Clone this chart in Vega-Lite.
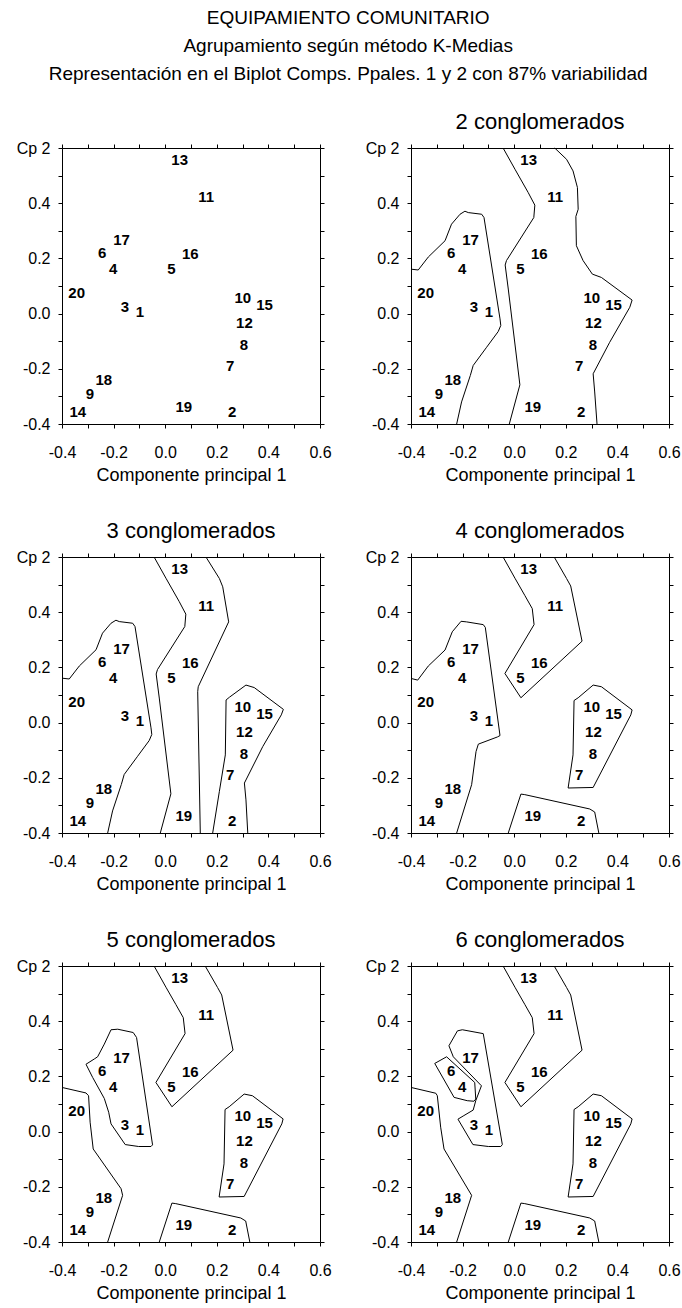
{
"$schema": "https://vega.github.io/schema/vega-lite/v6.json",
"padding": {"left": 16, "top": 9, "right": 4, "bottom": 4},
"title": {"text": ["EQUIPAMIENTO COMUNITARIO", "Agrupamiento según método K-Medias", "Representación en el Biplot Comps.  Ppales. 1 y 2 con 87% variabilidad"], "fontSize": 19, "lineHeight": 28, "anchor": "middle", "offset": 27},
"datasets": {
"pts": [
{"id":"13","x":0.056,"y":0.558},{"id":"11","x":0.159,"y":0.422},{"id":"17","x":-0.169,"y":0.267},{"id":"6","x":-0.244,"y":0.221},
{"id":"4","x":-0.202,"y":0.160},{"id":"16","x":0.097,"y":0.215},{"id":"5","x":0.024,"y":0.160},{"id":"20","x":-0.343,"y":0.076},
{"id":"3","x":-0.156,"y":0.024},{"id":"1","x":-0.098,"y":0.004},{"id":"10","x":0.301,"y":0.055},{"id":"15","x":0.385,"y":0.030},
{"id":"12","x":0.307,"y":-0.034},{"id":"8","x":0.305,"y":-0.115},{"id":"7","x":0.252,"y":-0.190},{"id":"18","x":-0.238,"y":-0.240},
{"id":"9","x":-0.292,"y":-0.291},{"id":"14","x":-0.339,"y":-0.355},{"id":"19","x":0.072,"y":-0.337},{"id":"2","x":0.260,"y":-0.355}
],
"lines": [
{"panel":2,"seg":"A","ord":1,"x":-0.400,"y":0.161},{"panel":2,"seg":"A","ord":2,"x":-0.372,"y":0.158},{"panel":2,"seg":"A","ord":3,"x":-0.333,"y":0.205},{"panel":2,"seg":"A","ord":4,"x":-0.268,"y":0.264},{"panel":2,"seg":"A","ord":5,"x":-0.243,"y":0.324},{"panel":2,"seg":"A","ord":6,"x":-0.210,"y":0.360},{"panel":2,"seg":"A","ord":7,"x":-0.191,"y":0.371},{"panel":2,"seg":"A","ord":8,"x":-0.178,"y":0.366},{"panel":2,"seg":"A","ord":9,"x":-0.126,"y":0.360},{"panel":2,"seg":"A","ord":10,"x":-0.117,"y":0.348},{"panel":2,"seg":"A","ord":11,"x":-0.055,"y":-0.019},{"panel":2,"seg":"A","ord":12,"x":-0.052,"y":-0.043},{"panel":2,"seg":"A","ord":13,"x":-0.062,"y":-0.065},{"panel":2,"seg":"A","ord":14,"x":-0.107,"y":-0.122},{"panel":2,"seg":"A","ord":15,"x":-0.159,"y":-0.188},{"panel":2,"seg":"A","ord":16,"x":-0.170,"y":-0.224},{"panel":2,"seg":"A","ord":17,"x":-0.204,"y":-0.320},{"panel":2,"seg":"A","ord":18,"x":-0.223,"y":-0.400},
{"panel":2,"seg":"B","ord":1,"x":-0.043,"y":0.600},{"panel":2,"seg":"B","ord":2,"x":0.003,"y":0.523},{"panel":2,"seg":"B","ord":3,"x":0.054,"y":0.439},{"panel":2,"seg":"B","ord":4,"x":0.080,"y":0.393},{"panel":2,"seg":"B","ord":5,"x":0.076,"y":0.348},{"panel":2,"seg":"B","ord":6,"x":-0.030,"y":0.192},{"panel":2,"seg":"B","ord":7,"x":-0.035,"y":0.176},{"panel":2,"seg":"B","ord":8,"x":-0.023,"y":0.089},{"panel":2,"seg":"B","ord":9,"x":0.022,"y":-0.258},{"panel":2,"seg":"B","ord":10,"x":-0.019,"y":-0.400},
{"panel":2,"seg":"C","ord":1,"x":0.157,"y":0.600},{"panel":2,"seg":"C","ord":2,"x":0.203,"y":0.559},{"panel":2,"seg":"C","ord":3,"x":0.228,"y":0.517},{"panel":2,"seg":"C","ord":4,"x":0.245,"y":0.457},{"panel":2,"seg":"C","ord":5,"x":0.248,"y":0.378},{"panel":2,"seg":"C","ord":6,"x":0.239,"y":0.352},{"panel":2,"seg":"C","ord":7,"x":0.241,"y":0.246},{"panel":2,"seg":"C","ord":8,"x":0.267,"y":0.192},{"panel":2,"seg":"C","ord":9,"x":0.303,"y":0.143},{"panel":2,"seg":"C","ord":10,"x":0.338,"y":0.131},{"panel":2,"seg":"C","ord":11,"x":0.457,"y":0.049},{"panel":2,"seg":"C","ord":12,"x":0.448,"y":0.023},{"panel":2,"seg":"C","ord":13,"x":0.370,"y":-0.104},{"panel":2,"seg":"C","ord":14,"x":0.306,"y":-0.218},{"panel":2,"seg":"C","ord":15,"x":0.312,"y":-0.284},{"panel":2,"seg":"C","ord":16,"x":0.321,"y":-0.400},
{"panel":3,"seg":"A","ord":1,"x":-0.400,"y":0.161},{"panel":3,"seg":"A","ord":2,"x":-0.372,"y":0.158},{"panel":3,"seg":"A","ord":3,"x":-0.333,"y":0.205},{"panel":3,"seg":"A","ord":4,"x":-0.268,"y":0.264},{"panel":3,"seg":"A","ord":5,"x":-0.243,"y":0.324},{"panel":3,"seg":"A","ord":6,"x":-0.210,"y":0.360},{"panel":3,"seg":"A","ord":7,"x":-0.191,"y":0.371},{"panel":3,"seg":"A","ord":8,"x":-0.178,"y":0.366},{"panel":3,"seg":"A","ord":9,"x":-0.126,"y":0.360},{"panel":3,"seg":"A","ord":10,"x":-0.117,"y":0.348},{"panel":3,"seg":"A","ord":11,"x":-0.055,"y":-0.019},{"panel":3,"seg":"A","ord":12,"x":-0.052,"y":-0.043},{"panel":3,"seg":"A","ord":13,"x":-0.062,"y":-0.065},{"panel":3,"seg":"A","ord":14,"x":-0.107,"y":-0.122},{"panel":3,"seg":"A","ord":15,"x":-0.159,"y":-0.188},{"panel":3,"seg":"A","ord":16,"x":-0.170,"y":-0.224},{"panel":3,"seg":"A","ord":17,"x":-0.204,"y":-0.320},{"panel":3,"seg":"A","ord":18,"x":-0.223,"y":-0.400},
{"panel":3,"seg":"B","ord":1,"x":-0.043,"y":0.600},{"panel":3,"seg":"B","ord":2,"x":0.003,"y":0.523},{"panel":3,"seg":"B","ord":3,"x":0.054,"y":0.439},{"panel":3,"seg":"B","ord":4,"x":0.080,"y":0.393},{"panel":3,"seg":"B","ord":5,"x":0.076,"y":0.348},{"panel":3,"seg":"B","ord":6,"x":-0.030,"y":0.192},{"panel":3,"seg":"B","ord":7,"x":-0.035,"y":0.176},{"panel":3,"seg":"B","ord":8,"x":-0.023,"y":0.089},{"panel":3,"seg":"B","ord":9,"x":0.022,"y":-0.258},{"panel":3,"seg":"B","ord":10,"x":-0.019,"y":-0.400},
{"panel":3,"seg":"C","ord":1,"x":0.158,"y":0.600},{"panel":3,"seg":"C","ord":2,"x":0.210,"y":0.522},{"panel":3,"seg":"C","ord":3,"x":0.223,"y":0.492},{"panel":3,"seg":"C","ord":4,"x":0.246,"y":0.365},{"panel":3,"seg":"C","ord":5,"x":0.128,"y":0.130},{"panel":3,"seg":"C","ord":6,"x":0.126,"y":0.112},{"panel":3,"seg":"C","ord":7,"x":0.136,"y":-0.400},
{"panel":3,"seg":"D","ord":1,"x":0.184,"y":-0.400},{"panel":3,"seg":"D","ord":2,"x":0.210,"y":-0.249},{"panel":3,"seg":"D","ord":3,"x":0.233,"y":-0.117},{"panel":3,"seg":"D","ord":4,"x":0.236,"y":0.082},{"panel":3,"seg":"D","ord":5,"x":0.249,"y":0.092},{"panel":3,"seg":"D","ord":6,"x":0.313,"y":0.136},{"panel":3,"seg":"D","ord":7,"x":0.345,"y":0.127},{"panel":3,"seg":"D","ord":8,"x":0.458,"y":0.048},{"panel":3,"seg":"D","ord":9,"x":0.450,"y":0.028},{"panel":3,"seg":"D","ord":10,"x":0.378,"y":-0.087},{"panel":3,"seg":"D","ord":11,"x":0.307,"y":-0.219},{"panel":3,"seg":"D","ord":12,"x":0.313,"y":-0.280},{"panel":3,"seg":"D","ord":13,"x":0.320,"y":-0.400},
{"panel":4,"seg":"A","ord":1,"x":-0.400,"y":0.160},{"panel":4,"seg":"A","ord":2,"x":-0.374,"y":0.154},{"panel":4,"seg":"A","ord":3,"x":-0.333,"y":0.205},{"panel":4,"seg":"A","ord":4,"x":-0.268,"y":0.263},{"panel":4,"seg":"A","ord":5,"x":-0.240,"y":0.329},{"panel":4,"seg":"A","ord":6,"x":-0.206,"y":0.367},{"panel":4,"seg":"A","ord":7,"x":-0.185,"y":0.365},{"panel":4,"seg":"A","ord":8,"x":-0.120,"y":0.355},{"panel":4,"seg":"A","ord":9,"x":-0.112,"y":0.345},{"panel":4,"seg":"A","ord":10,"x":-0.055,"y":-0.047},{"panel":4,"seg":"A","ord":11,"x":-0.065,"y":-0.052},{"panel":4,"seg":"A","ord":12,"x":-0.139,"y":-0.078},{"panel":4,"seg":"A","ord":13,"x":-0.148,"y":-0.105},{"panel":4,"seg":"A","ord":14,"x":-0.165,"y":-0.225},{"panel":4,"seg":"A","ord":15,"x":-0.223,"y":-0.400},
{"panel":4,"seg":"T","ord":1,"x":-0.043,"y":0.600},{"panel":4,"seg":"T","ord":2,"x":0.003,"y":0.523},{"panel":4,"seg":"T","ord":3,"x":0.041,"y":0.461},{"panel":4,"seg":"T","ord":4,"x":0.070,"y":0.413},{"panel":4,"seg":"T","ord":5,"x":0.077,"y":0.355},{"panel":4,"seg":"T","ord":6,"x":-0.036,"y":0.178},{"panel":4,"seg":"T","ord":7,"x":0.026,"y":0.090},{"panel":4,"seg":"T","ord":8,"x":0.263,"y":0.295},{"panel":4,"seg":"T","ord":9,"x":0.219,"y":0.495},{"panel":4,"seg":"T","ord":10,"x":0.203,"y":0.522},{"panel":4,"seg":"T","ord":11,"x":0.155,"y":0.600},
{"panel":4,"seg":"R","ord":1,"x":0.232,"y":0.080},{"panel":4,"seg":"R","ord":2,"x":0.248,"y":0.090},{"panel":4,"seg":"R","ord":3,"x":0.306,"y":0.136},{"panel":4,"seg":"R","ord":4,"x":0.338,"y":0.130},{"panel":4,"seg":"R","ord":5,"x":0.457,"y":0.046},{"panel":4,"seg":"R","ord":6,"x":0.452,"y":0.028},{"panel":4,"seg":"R","ord":7,"x":0.306,"y":-0.235},{"panel":4,"seg":"R","ord":8,"x":0.209,"y":-0.237},{"panel":4,"seg":"R","ord":9,"x":0.228,"y":-0.117},{"panel":4,"seg":"R","ord":10,"x":0.232,"y":0.080},
{"panel":4,"seg":"Bt","ord":1,"x":-0.023,"y":-0.400},{"panel":4,"seg":"Bt","ord":2,"x":0.026,"y":-0.259},{"panel":4,"seg":"Bt","ord":3,"x":0.041,"y":-0.261},{"panel":4,"seg":"Bt","ord":4,"x":0.293,"y":-0.313},{"panel":4,"seg":"Bt","ord":5,"x":0.312,"y":-0.324},{"panel":4,"seg":"Bt","ord":6,"x":0.328,"y":-0.400},
{"panel":5,"seg":"L","ord":1,"x":-0.400,"y":0.160},{"panel":5,"seg":"L","ord":2,"x":-0.307,"y":0.140},{"panel":5,"seg":"L","ord":3,"x":-0.297,"y":0.130},{"panel":5,"seg":"L","ord":4,"x":-0.291,"y":0.034},{"panel":5,"seg":"L","ord":5,"x":-0.279,"y":-0.063},{"panel":5,"seg":"L","ord":6,"x":-0.171,"y":-0.207},{"panel":5,"seg":"L","ord":7,"x":-0.165,"y":-0.231},{"panel":5,"seg":"L","ord":8,"x":-0.223,"y":-0.400},
{"panel":5,"seg":"P","ord":1,"x":-0.307,"y":0.244},{"panel":5,"seg":"P","ord":2,"x":-0.275,"y":0.263},{"panel":5,"seg":"P","ord":3,"x":-0.262,"y":0.271},{"panel":5,"seg":"P","ord":4,"x":-0.236,"y":0.317},{"panel":5,"seg":"P","ord":5,"x":-0.210,"y":0.369},{"panel":5,"seg":"P","ord":6,"x":-0.184,"y":0.371},{"panel":5,"seg":"P","ord":7,"x":-0.124,"y":0.359},{"panel":5,"seg":"P","ord":8,"x":-0.111,"y":0.341},{"panel":5,"seg":"P","ord":9,"x":-0.049,"y":-0.048},{"panel":5,"seg":"P","ord":10,"x":-0.055,"y":-0.054},{"panel":5,"seg":"P","ord":11,"x":-0.103,"y":-0.054},{"panel":5,"seg":"P","ord":12,"x":-0.155,"y":-0.047},{"panel":5,"seg":"P","ord":13,"x":-0.210,"y":0.028},{"panel":5,"seg":"P","ord":14,"x":-0.219,"y":0.070},{"panel":5,"seg":"P","ord":15,"x":-0.236,"y":0.120},{"panel":5,"seg":"P","ord":16,"x":-0.281,"y":0.196},{"panel":5,"seg":"P","ord":17,"x":-0.307,"y":0.244},
{"panel":5,"seg":"T","ord":1,"x":-0.043,"y":0.600},{"panel":5,"seg":"T","ord":2,"x":0.003,"y":0.523},{"panel":5,"seg":"T","ord":3,"x":0.041,"y":0.461},{"panel":5,"seg":"T","ord":4,"x":0.070,"y":0.413},{"panel":5,"seg":"T","ord":5,"x":0.077,"y":0.355},{"panel":5,"seg":"T","ord":6,"x":-0.036,"y":0.178},{"panel":5,"seg":"T","ord":7,"x":0.026,"y":0.090},{"panel":5,"seg":"T","ord":8,"x":0.263,"y":0.295},{"panel":5,"seg":"T","ord":9,"x":0.219,"y":0.495},{"panel":5,"seg":"T","ord":10,"x":0.203,"y":0.522},{"panel":5,"seg":"T","ord":11,"x":0.155,"y":0.600},
{"panel":5,"seg":"R","ord":1,"x":0.232,"y":0.080},{"panel":5,"seg":"R","ord":2,"x":0.248,"y":0.090},{"panel":5,"seg":"R","ord":3,"x":0.306,"y":0.136},{"panel":5,"seg":"R","ord":4,"x":0.338,"y":0.130},{"panel":5,"seg":"R","ord":5,"x":0.457,"y":0.046},{"panel":5,"seg":"R","ord":6,"x":0.452,"y":0.028},{"panel":5,"seg":"R","ord":7,"x":0.306,"y":-0.235},{"panel":5,"seg":"R","ord":8,"x":0.209,"y":-0.237},{"panel":5,"seg":"R","ord":9,"x":0.228,"y":-0.117},{"panel":5,"seg":"R","ord":10,"x":0.232,"y":0.080},
{"panel":5,"seg":"Bt","ord":1,"x":-0.023,"y":-0.400},{"panel":5,"seg":"Bt","ord":2,"x":0.026,"y":-0.259},{"panel":5,"seg":"Bt","ord":3,"x":0.041,"y":-0.261},{"panel":5,"seg":"Bt","ord":4,"x":0.293,"y":-0.313},{"panel":5,"seg":"Bt","ord":5,"x":0.312,"y":-0.324},{"panel":5,"seg":"Bt","ord":6,"x":0.328,"y":-0.400},
{"panel":6,"seg":"L","ord":1,"x":-0.400,"y":0.160},{"panel":6,"seg":"L","ord":2,"x":-0.304,"y":0.139},{"panel":6,"seg":"L","ord":3,"x":-0.298,"y":0.130},{"panel":6,"seg":"L","ord":4,"x":-0.285,"y":0.016},{"panel":6,"seg":"L","ord":5,"x":-0.272,"y":-0.063},{"panel":6,"seg":"L","ord":6,"x":-0.165,"y":-0.231},{"panel":6,"seg":"L","ord":7,"x":-0.223,"y":-0.400},
{"panel":6,"seg":"P","ord":1,"x":-0.253,"y":0.311},{"panel":6,"seg":"P","ord":2,"x":-0.220,"y":0.365},{"panel":6,"seg":"P","ord":3,"x":-0.201,"y":0.369},{"panel":6,"seg":"P","ord":4,"x":-0.120,"y":0.355},{"panel":6,"seg":"P","ord":5,"x":-0.046,"y":-0.047},{"panel":6,"seg":"P","ord":6,"x":-0.052,"y":-0.054},{"panel":6,"seg":"P","ord":7,"x":-0.100,"y":-0.054},{"panel":6,"seg":"P","ord":8,"x":-0.160,"y":-0.047},{"panel":6,"seg":"P","ord":9,"x":-0.218,"y":0.045},{"panel":6,"seg":"P","ord":10,"x":-0.195,"y":0.058},{"panel":6,"seg":"P","ord":11,"x":-0.159,"y":0.078},{"panel":6,"seg":"P","ord":12,"x":-0.149,"y":0.112},{"panel":6,"seg":"P","ord":13,"x":-0.127,"y":0.166},{"panel":6,"seg":"P","ord":14,"x":-0.236,"y":0.271},{"panel":6,"seg":"P","ord":15,"x":-0.253,"y":0.311},
{"panel":6,"seg":"Q","ord":1,"x":-0.308,"y":0.247},{"panel":6,"seg":"Q","ord":2,"x":-0.262,"y":0.271},{"panel":6,"seg":"Q","ord":3,"x":-0.153,"y":0.178},{"panel":6,"seg":"Q","ord":4,"x":-0.149,"y":0.118},{"panel":6,"seg":"Q","ord":5,"x":-0.156,"y":0.110},{"panel":6,"seg":"Q","ord":6,"x":-0.182,"y":0.112},{"panel":6,"seg":"Q","ord":7,"x":-0.233,"y":0.124},{"panel":6,"seg":"Q","ord":8,"x":-0.308,"y":0.247},
{"panel":6,"seg":"T","ord":1,"x":-0.043,"y":0.600},{"panel":6,"seg":"T","ord":2,"x":0.003,"y":0.523},{"panel":6,"seg":"T","ord":3,"x":0.041,"y":0.461},{"panel":6,"seg":"T","ord":4,"x":0.070,"y":0.413},{"panel":6,"seg":"T","ord":5,"x":0.077,"y":0.355},{"panel":6,"seg":"T","ord":6,"x":-0.036,"y":0.178},{"panel":6,"seg":"T","ord":7,"x":0.026,"y":0.090},{"panel":6,"seg":"T","ord":8,"x":0.263,"y":0.295},{"panel":6,"seg":"T","ord":9,"x":0.219,"y":0.495},{"panel":6,"seg":"T","ord":10,"x":0.203,"y":0.522},{"panel":6,"seg":"T","ord":11,"x":0.155,"y":0.600},
{"panel":6,"seg":"R","ord":1,"x":0.232,"y":0.080},{"panel":6,"seg":"R","ord":2,"x":0.248,"y":0.090},{"panel":6,"seg":"R","ord":3,"x":0.306,"y":0.136},{"panel":6,"seg":"R","ord":4,"x":0.338,"y":0.130},{"panel":6,"seg":"R","ord":5,"x":0.457,"y":0.046},{"panel":6,"seg":"R","ord":6,"x":0.452,"y":0.028},{"panel":6,"seg":"R","ord":7,"x":0.306,"y":-0.235},{"panel":6,"seg":"R","ord":8,"x":0.209,"y":-0.237},{"panel":6,"seg":"R","ord":9,"x":0.228,"y":-0.117},{"panel":6,"seg":"R","ord":10,"x":0.232,"y":0.080},
{"panel":6,"seg":"Bt","ord":1,"x":-0.023,"y":-0.400},{"panel":6,"seg":"Bt","ord":2,"x":0.026,"y":-0.259},{"panel":6,"seg":"Bt","ord":3,"x":0.041,"y":-0.261},{"panel":6,"seg":"Bt","ord":4,"x":0.293,"y":-0.313},{"panel":6,"seg":"Bt","ord":5,"x":0.312,"y":-0.324},{"panel":6,"seg":"Bt","ord":6,"x":0.328,"y":-0.400}
]
},
"spacing": 36,
"vconcat": [
{"spacing": 33, "hconcat": [
 {"width": 258, "height": 276,
  "layer": [
   {"data": {"name": "pts"}, "mark": {"type": "text", "fontWeight": "bold", "fontSize": 15, "color": "black", "font": "Liberation Sans"},
    "encoding": {"x": {"field": "x", "type": "quantitative", "scale": {"domain": [-0.4, 0.6], "nice": false, "zero": false}, "axis": {"orient": "bottom", "values": [-0.4,-0.3,-0.2,-0.1,0,0.1,0.2,0.3,0.4,0.5,0.6], "labelPadding": 16, "labelExpr": "abs(round(datum.value*10))%2==0 ? replace(format(datum.value,'.1f'),'\u2212','-') : ''", "title": "Componente principal 1"}},
     "y": {"field": "y", "type": "quantitative", "scale": {"domain": [-0.4, 0.6], "nice": false, "zero": false}, "axis": {"orient": "left", "values": [-0.4,-0.3,-0.2,-0.1,0,0.1,0.2,0.3,0.4,0.5,0.6], "labelExpr": "datum.value > 0.55 ? 'Cp 2' : (abs(round(datum.value*10))%2==0 ? replace(format(datum.value,'.1f'),'\u2212','-') : '')", "title": null}},
     "text": {"field": "id"}}},
   {"data": {"name": "pts"}, "mark": {"type": "point", "opacity": 0},
    "encoding": {"x": {"field": "x", "type": "quantitative", "scale": {"domain": [-0.4, 0.6], "nice": false, "zero": false}, "axis": {"orient": "top", "values": [-0.4,-0.3,-0.2,-0.1,0,0.1,0.2,0.3,0.4,0.5,0.6], "labels": false, "title": null}},
     "y": {"field": "y", "type": "quantitative", "scale": {"domain": [-0.4, 0.6], "nice": false, "zero": false}, "axis": {"orient": "right", "values": [-0.4,-0.3,-0.2,-0.1,0,0.1,0.2,0.3,0.4,0.5,0.6], "labels": false, "title": null}}}}
  ],
  "resolve": {"axis": {"x": "independent", "y": "independent"}}},
 {"width": 258, "height": 276, "title": {"text": "2 conglomerados", "fontSize": 22, "frame": "group", "offset": 6},
  "layer": [
   {"data": {"name": "pts"}, "mark": {"type": "text", "fontWeight": "bold", "fontSize": 15, "color": "black", "font": "Liberation Sans"},
    "encoding": {"x": {"field": "x", "type": "quantitative", "scale": {"domain": [-0.4, 0.6], "nice": false, "zero": false}, "axis": {"orient": "bottom", "values": [-0.4,-0.3,-0.2,-0.1,0,0.1,0.2,0.3,0.4,0.5,0.6], "labelPadding": 16, "labelExpr": "abs(round(datum.value*10))%2==0 ? replace(format(datum.value,'.1f'),'\u2212','-') : ''", "title": "Componente principal 1"}},
     "y": {"field": "y", "type": "quantitative", "scale": {"domain": [-0.4, 0.6], "nice": false, "zero": false}, "axis": {"orient": "left", "values": [-0.4,-0.3,-0.2,-0.1,0,0.1,0.2,0.3,0.4,0.5,0.6], "labelExpr": "datum.value > 0.55 ? 'Cp 2' : (abs(round(datum.value*10))%2==0 ? replace(format(datum.value,'.1f'),'\u2212','-') : '')", "title": null}},
     "text": {"field": "id"}}},
   {"data": {"name": "lines"}, "transform": [{"filter": "datum.panel == 2"}], "mark": {"type": "line", "color": "black", "strokeWidth": 1},
    "encoding": {"x": {"field": "x", "type": "quantitative", "scale": {"domain": [-0.4, 0.6], "nice": false, "zero": false}, "axis": {"orient": "top", "values": [-0.4,-0.3,-0.2,-0.1,0,0.1,0.2,0.3,0.4,0.5,0.6], "labels": false, "title": null}},
     "y": {"field": "y", "type": "quantitative", "scale": {"domain": [-0.4, 0.6], "nice": false, "zero": false}, "axis": {"orient": "right", "values": [-0.4,-0.3,-0.2,-0.1,0,0.1,0.2,0.3,0.4,0.5,0.6], "labels": false, "title": null}},
     "detail": {"field": "seg"}, "order": {"field": "ord", "type": "quantitative"}}}
  ],
  "resolve": {"axis": {"x": "independent", "y": "independent"}}}
]},
{"spacing": 33, "hconcat": [
 {"width": 258, "height": 276, "title": {"text": "3 conglomerados", "fontSize": 22, "frame": "group", "offset": 6},
  "layer": [
   {"data": {"name": "pts"}, "mark": {"type": "text", "fontWeight": "bold", "fontSize": 15, "color": "black", "font": "Liberation Sans"},
    "encoding": {"x": {"field": "x", "type": "quantitative", "scale": {"domain": [-0.4, 0.6], "nice": false, "zero": false}, "axis": {"orient": "bottom", "values": [-0.4,-0.3,-0.2,-0.1,0,0.1,0.2,0.3,0.4,0.5,0.6], "labelPadding": 16, "labelExpr": "abs(round(datum.value*10))%2==0 ? replace(format(datum.value,'.1f'),'\u2212','-') : ''", "title": "Componente principal 1"}},
     "y": {"field": "y", "type": "quantitative", "scale": {"domain": [-0.4, 0.6], "nice": false, "zero": false}, "axis": {"orient": "left", "values": [-0.4,-0.3,-0.2,-0.1,0,0.1,0.2,0.3,0.4,0.5,0.6], "labelExpr": "datum.value > 0.55 ? 'Cp 2' : (abs(round(datum.value*10))%2==0 ? replace(format(datum.value,'.1f'),'\u2212','-') : '')", "title": null}},
     "text": {"field": "id"}}},
   {"data": {"name": "lines"}, "transform": [{"filter": "datum.panel == 3"}], "mark": {"type": "line", "color": "black", "strokeWidth": 1},
    "encoding": {"x": {"field": "x", "type": "quantitative", "scale": {"domain": [-0.4, 0.6], "nice": false, "zero": false}, "axis": {"orient": "top", "values": [-0.4,-0.3,-0.2,-0.1,0,0.1,0.2,0.3,0.4,0.5,0.6], "labels": false, "title": null}},
     "y": {"field": "y", "type": "quantitative", "scale": {"domain": [-0.4, 0.6], "nice": false, "zero": false}, "axis": {"orient": "right", "values": [-0.4,-0.3,-0.2,-0.1,0,0.1,0.2,0.3,0.4,0.5,0.6], "labels": false, "title": null}},
     "detail": {"field": "seg"}, "order": {"field": "ord", "type": "quantitative"}}}
  ],
  "resolve": {"axis": {"x": "independent", "y": "independent"}}},
 {"width": 258, "height": 276, "title": {"text": "4 conglomerados", "fontSize": 22, "frame": "group", "offset": 6},
  "layer": [
   {"data": {"name": "pts"}, "mark": {"type": "text", "fontWeight": "bold", "fontSize": 15, "color": "black", "font": "Liberation Sans"},
    "encoding": {"x": {"field": "x", "type": "quantitative", "scale": {"domain": [-0.4, 0.6], "nice": false, "zero": false}, "axis": {"orient": "bottom", "values": [-0.4,-0.3,-0.2,-0.1,0,0.1,0.2,0.3,0.4,0.5,0.6], "labelPadding": 16, "labelExpr": "abs(round(datum.value*10))%2==0 ? replace(format(datum.value,'.1f'),'\u2212','-') : ''", "title": "Componente principal 1"}},
     "y": {"field": "y", "type": "quantitative", "scale": {"domain": [-0.4, 0.6], "nice": false, "zero": false}, "axis": {"orient": "left", "values": [-0.4,-0.3,-0.2,-0.1,0,0.1,0.2,0.3,0.4,0.5,0.6], "labelExpr": "datum.value > 0.55 ? 'Cp 2' : (abs(round(datum.value*10))%2==0 ? replace(format(datum.value,'.1f'),'\u2212','-') : '')", "title": null}},
     "text": {"field": "id"}}},
   {"data": {"name": "lines"}, "transform": [{"filter": "datum.panel == 4"}], "mark": {"type": "line", "color": "black", "strokeWidth": 1},
    "encoding": {"x": {"field": "x", "type": "quantitative", "scale": {"domain": [-0.4, 0.6], "nice": false, "zero": false}, "axis": {"orient": "top", "values": [-0.4,-0.3,-0.2,-0.1,0,0.1,0.2,0.3,0.4,0.5,0.6], "labels": false, "title": null}},
     "y": {"field": "y", "type": "quantitative", "scale": {"domain": [-0.4, 0.6], "nice": false, "zero": false}, "axis": {"orient": "right", "values": [-0.4,-0.3,-0.2,-0.1,0,0.1,0.2,0.3,0.4,0.5,0.6], "labels": false, "title": null}},
     "detail": {"field": "seg"}, "order": {"field": "ord", "type": "quantitative"}}}
  ],
  "resolve": {"axis": {"x": "independent", "y": "independent"}}}
]},
{"spacing": 33, "hconcat": [
 {"width": 258, "height": 276, "title": {"text": "5 conglomerados", "fontSize": 22, "frame": "group", "offset": 6},
  "layer": [
   {"data": {"name": "pts"}, "mark": {"type": "text", "fontWeight": "bold", "fontSize": 15, "color": "black", "font": "Liberation Sans"},
    "encoding": {"x": {"field": "x", "type": "quantitative", "scale": {"domain": [-0.4, 0.6], "nice": false, "zero": false}, "axis": {"orient": "bottom", "values": [-0.4,-0.3,-0.2,-0.1,0,0.1,0.2,0.3,0.4,0.5,0.6], "labelPadding": 16, "labelExpr": "abs(round(datum.value*10))%2==0 ? replace(format(datum.value,'.1f'),'\u2212','-') : ''", "title": "Componente principal 1"}},
     "y": {"field": "y", "type": "quantitative", "scale": {"domain": [-0.4, 0.6], "nice": false, "zero": false}, "axis": {"orient": "left", "values": [-0.4,-0.3,-0.2,-0.1,0,0.1,0.2,0.3,0.4,0.5,0.6], "labelExpr": "datum.value > 0.55 ? 'Cp 2' : (abs(round(datum.value*10))%2==0 ? replace(format(datum.value,'.1f'),'\u2212','-') : '')", "title": null}},
     "text": {"field": "id"}}},
   {"data": {"name": "lines"}, "transform": [{"filter": "datum.panel == 5"}], "mark": {"type": "line", "color": "black", "strokeWidth": 1},
    "encoding": {"x": {"field": "x", "type": "quantitative", "scale": {"domain": [-0.4, 0.6], "nice": false, "zero": false}, "axis": {"orient": "top", "values": [-0.4,-0.3,-0.2,-0.1,0,0.1,0.2,0.3,0.4,0.5,0.6], "labels": false, "title": null}},
     "y": {"field": "y", "type": "quantitative", "scale": {"domain": [-0.4, 0.6], "nice": false, "zero": false}, "axis": {"orient": "right", "values": [-0.4,-0.3,-0.2,-0.1,0,0.1,0.2,0.3,0.4,0.5,0.6], "labels": false, "title": null}},
     "detail": {"field": "seg"}, "order": {"field": "ord", "type": "quantitative"}}}
  ],
  "resolve": {"axis": {"x": "independent", "y": "independent"}}},
 {"width": 258, "height": 276, "title": {"text": "6 conglomerados", "fontSize": 22, "frame": "group", "offset": 6},
  "layer": [
   {"data": {"name": "pts"}, "mark": {"type": "text", "fontWeight": "bold", "fontSize": 15, "color": "black", "font": "Liberation Sans"},
    "encoding": {"x": {"field": "x", "type": "quantitative", "scale": {"domain": [-0.4, 0.6], "nice": false, "zero": false}, "axis": {"orient": "bottom", "values": [-0.4,-0.3,-0.2,-0.1,0,0.1,0.2,0.3,0.4,0.5,0.6], "labelPadding": 16, "labelExpr": "abs(round(datum.value*10))%2==0 ? replace(format(datum.value,'.1f'),'\u2212','-') : ''", "title": "Componente principal 1"}},
     "y": {"field": "y", "type": "quantitative", "scale": {"domain": [-0.4, 0.6], "nice": false, "zero": false}, "axis": {"orient": "left", "values": [-0.4,-0.3,-0.2,-0.1,0,0.1,0.2,0.3,0.4,0.5,0.6], "labelExpr": "datum.value > 0.55 ? 'Cp 2' : (abs(round(datum.value*10))%2==0 ? replace(format(datum.value,'.1f'),'\u2212','-') : '')", "title": null}},
     "text": {"field": "id"}}},
   {"data": {"name": "lines"}, "transform": [{"filter": "datum.panel == 6"}], "mark": {"type": "line", "color": "black", "strokeWidth": 1},
    "encoding": {"x": {"field": "x", "type": "quantitative", "scale": {"domain": [-0.4, 0.6], "nice": false, "zero": false}, "axis": {"orient": "top", "values": [-0.4,-0.3,-0.2,-0.1,0,0.1,0.2,0.3,0.4,0.5,0.6], "labels": false, "title": null}},
     "y": {"field": "y", "type": "quantitative", "scale": {"domain": [-0.4, 0.6], "nice": false, "zero": false}, "axis": {"orient": "right", "values": [-0.4,-0.3,-0.2,-0.1,0,0.1,0.2,0.3,0.4,0.5,0.6], "labels": false, "title": null}},
     "detail": {"field": "seg"}, "order": {"field": "ord", "type": "quantitative"}}}
  ],
  "resolve": {"axis": {"x": "independent", "y": "independent"}}}
]}
],
"config": {
 "view": {"stroke": null},
 "font": "Liberation Sans",
 "axis": {"domainColor": "black", "tickColor": "black", "labelColor": "black", "titleColor": "black", "grid": false, "tickSize": 4, "labelFont": "Liberation Sans", "titleFont": "Liberation Sans", "labelFontSize": 16, "titleFontSize": 18, "titleFontWeight": "normal", "labelPadding": 8, "titlePadding": 6, "labelFlush": false, "labelOverlap": false, "domainWidth": 1, "tickWidth": 1},
 "title": {"font": "Liberation Sans", "fontWeight": "normal", "color": "black"}
}
}
